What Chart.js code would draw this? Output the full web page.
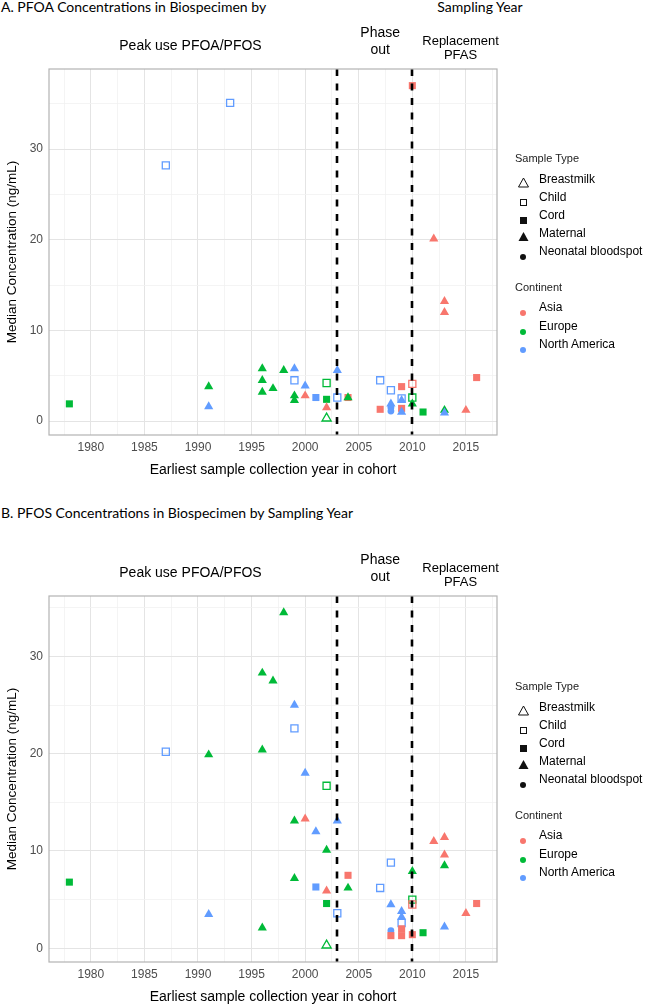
<!DOCTYPE html>
<html>
<head>
<meta charset="utf-8">
<script src="https://cdn.jsdelivr.net/npm/chart.js@4.4.1/dist/chart.umd.min.js"></script>
<style>
  body { margin: 0; background: #fff; }
  #wrap { position: relative; width: 649px; height: 1006px; overflow: hidden; font-family: "Liberation Sans", Arial, sans-serif; }
  canvas { position: absolute; left: 0; }
  .t { position: absolute; white-space: nowrap; }
  .ttl { font-family: Lato, sans-serif; font-size: 14px; line-height: 16px; color: #000; }
  .lgh { font-size: 11px; line-height: 12px; color: #222; }
  .lg { font-size: 12px; line-height: 14px; color: #000; }
  .sym { position: absolute; }
</style>
</head>
<body>
<div id="wrap">
  <div class="t ttl" style="left:1px;top:-1px;">A. PFOA Concentrations in Biospecimen by</div>
  <div class="t ttl" style="left:480px;top:-1px;transform:translateX(-50%);">Sampling Year</div>
  <canvas id="pfoaChart" width="649" height="479" style="top:0px;"></canvas>
  <div class="t ttl" style="left:1px;top:505px;">B. PFOS Concentrations in Biospecimen by Sampling Year</div>
  <canvas id="pfosChart" width="649" height="479" style="top:527px;"></canvas>
</div>
<script>
// ---- data: panel A, PFOA ----
const pfoaYear = [1978, 1987, 1991, 1991, 1993, 1996, 1996, 1996, 1997, 1998,
                  1999, 1999, 1999, 1999, 2000, 2000, 2001, 2002, 2002, 2002,
                  2002, 2003, 2003, 2004, 2004, 2007, 2007, 2008, 2008, 2008,
                  2008, 2009, 2009, 2009, 2009, 2009, 2010, 2010, 2010, 2010,
                  2011, 2012, 2013, 2013, 2013, 2013, 2015, 2016];
const pfoaConc = [1.9, 28.2, 3.8, 1.6, 35.1, 5.8, 4.5, 3.2, 3.6, 5.6,
                  5.8, 4.5, 2.8, 2.3, 3.9, 2.8, 2.6, 4.2, 2.4, 1.5,
                  0.3, 5.6, 2.6, 2.6, 2.6, 4.5, 1.3, 3.4, 1.9, 1.5,
                  1.1, 3.8, 2.5, 2.3, 1.4, 1.0, 37.0, 4.1, 2.6, 1.9,
                  1.0, 20.1, 13.2, 12.0, 1.2, 0.9, 1.2, 4.8];
const pfoaType = ['Cord', 'Child', 'Maternal', 'Maternal', 'Child', 'Maternal', 'Maternal', 'Maternal', 'Maternal', 'Maternal',
                  'Maternal', 'Child', 'Maternal', 'Maternal', 'Maternal', 'Maternal', 'Cord', 'Child', 'Cord', 'Maternal',
                  'Breastmilk', 'Maternal', 'Child', 'Cord', 'Maternal', 'Child', 'Cord', 'Child', 'Maternal', 'Neonatal bloodspot',
                  'Neonatal bloodspot', 'Cord', 'Child', 'Maternal', 'Cord', 'Maternal', 'Cord', 'Child', 'Child', 'Maternal',
                  'Cord', 'Maternal', 'Maternal', 'Maternal', 'Maternal', 'Maternal', 'Maternal', 'Cord'];
const pfoaContinent = ['Europe', 'North America', 'Europe', 'North America', 'North America', 'Europe', 'Europe', 'Europe', 'Europe', 'Europe',
                       'North America', 'North America', 'Europe', 'Europe', 'North America', 'Asia', 'North America', 'Europe', 'Europe', 'Asia',
                       'Europe', 'North America', 'North America', 'Asia', 'Europe', 'North America', 'Asia', 'North America', 'North America', 'North America',
                       'North America', 'Asia', 'North America', 'North America', 'Asia', 'North America', 'Asia', 'Asia', 'Europe', 'Europe',
                       'Europe', 'Asia', 'Asia', 'Asia', 'Europe', 'North America', 'Asia', 'Asia'];

// ---- data: panel B, PFOS ----
const pfosYear = [1978, 1987, 1991, 1991, 1996, 1996, 1996, 1997, 1998, 1999,
                  1999, 1999, 1999, 2000, 2000, 2001, 2001, 2002, 2002, 2002,
                  2002, 2002, 2003, 2003, 2004, 2004, 2007, 2008, 2008, 2008,
                  2008, 2009, 2009, 2009, 2009, 2009, 2010, 2010, 2010, 2010,
                  2011, 2012, 2013, 2013, 2013, 2013, 2015, 2016];
const pfosConc = [6.8, 20.2, 19.9, 3.5, 28.3, 20.4, 2.1, 27.5, 34.5, 25.0,
                  22.6, 13.1, 7.2, 18.0, 13.3, 12.0, 6.3, 16.7, 10.1, 5.9,
                  4.6, 0.3, 13.1, 3.6, 7.5, 6.2, 6.2, 8.8, 4.5, 1.8,
                  1.3, 3.8, 3.2, 2.6, 2.0, 1.3, 7.9, 5.0, 4.5, 1.4,
                  1.6, 11.0, 11.4, 9.6, 8.5, 2.2, 3.6, 4.6];
const pfosType = ['Cord', 'Child', 'Maternal', 'Maternal', 'Maternal', 'Maternal', 'Maternal', 'Maternal', 'Maternal', 'Maternal',
                  'Child', 'Maternal', 'Maternal', 'Maternal', 'Maternal', 'Maternal', 'Cord', 'Child', 'Maternal', 'Maternal',
                  'Cord', 'Breastmilk', 'Maternal', 'Child', 'Cord', 'Maternal', 'Child', 'Child', 'Maternal', 'Neonatal bloodspot',
                  'Cord', 'Maternal', 'Maternal', 'Child', 'Cord', 'Cord', 'Maternal', 'Child', 'Child', 'Cord',
                  'Cord', 'Maternal', 'Maternal', 'Maternal', 'Maternal', 'Maternal', 'Maternal', 'Cord'];
const pfosContinent = ['Europe', 'North America', 'Europe', 'North America', 'Europe', 'Europe', 'Europe', 'Europe', 'Europe', 'North America',
                       'North America', 'Europe', 'Europe', 'North America', 'Asia', 'North America', 'North America', 'Europe', 'Europe', 'Asia',
                       'Europe', 'Europe', 'North America', 'North America', 'Asia', 'Europe', 'North America', 'North America', 'North America', 'North America',
                       'Asia', 'North America', 'North America', 'North America', 'Asia', 'Asia', 'Europe', 'Europe', 'Asia', 'Asia',
                       'Europe', 'Asia', 'Asia', 'Asia', 'Europe', 'North America', 'Asia', 'Asia'];

// ---- axes, periods, legend ----
const xTickYears = [1980, 1985, 1990, 1995, 2000, 2005, 2010, 2015];
const yTickValues = [0, 10, 20, 30];
const phaseYears = [2003, 2010];
const periodLabels = [['Peak use PFOA/PFOS'], ['Phase', 'out'], ['Replacement', 'PFAS']];
const periodCenters = [1989.3, 2007, 2014.5];
const sampleTypes = ['Breastmilk', 'Child', 'Cord', 'Maternal', 'Neonatal bloodspot'];
const continents = ['Asia', 'Europe', 'North America'];
const continentColors = ['#F8766D', '#00BA38', '#619CFF'];

const typeStyle = {
  'Breastmilk':         { shape: 'triangle', open: true,  r: 5.3 },
  'Child':              { shape: 'rect',     open: true,  r: 5.0 },
  'Cord':               { shape: 'rect',     open: false, r: 5.0 },
  'Maternal':           { shape: 'triangle', open: false, r: 5.3 },
  'Neonatal bloodspot': { shape: 'circle',   open: false, r: 3.4 }
};

function colorOf(c) { return continentColors[continents.indexOf(c)]; }

// each panel: plot top 69, bottom 435, left 49, right 497 in its canvas
const periodLayout = [
  { size: 14, ys: [46] },
  { size: 14, ys: [33, 50] },
  { size: 13, ys: [41, 55] }
];

const framePlugin = {
  id: 'frame',
  afterDatasetsDraw(chart) {
    const { ctx, chartArea: a, scales: { x } } = chart;
    ctx.save();
    ctx.strokeStyle = '#000';
    ctx.lineWidth = 2.6;
    ctx.setLineDash([7, 7.5]);
    phaseYears.forEach(yr => {
      const px = Math.round(x.getPixelForValue(yr));
      ctx.beginPath();
      ctx.moveTo(px, a.top);
      ctx.lineTo(px, a.bottom);
      ctx.stroke();
    });
    ctx.setLineDash([]);
    ctx.strokeStyle = '#b3b3b3';
    ctx.lineWidth = 1.2;
    ctx.strokeRect(a.left, a.top, a.width, a.height);

    ctx.fillStyle = '#000';
    ctx.textAlign = 'center';
    ctx.textBaseline = 'middle';
    periodLabels.forEach((lines, i) => {
      const lay = periodLayout[i];
      ctx.font = lay.size + 'px "Liberation Sans", Arial, sans-serif';
      const px = x.getPixelForValue(periodCenters[i]);
      lines.forEach((s, j) => ctx.fillText(s, px, lay.ys[j]));
    });
    ctx.restore();
  }
};

function makeChart(id, years, conc, types, conts) {
  const pts = years.map((yr, i) => ({ x: yr, y: conc[i] }));
  const st = types.map(t => typeStyle[t]);
  const cols = conts.map(colorOf);
  const yMin = Math.min(...conc), yMax = Math.max(...conc);
  const xMin = Math.min(...years), xMax = Math.max(...years);
  const yPad = (yMax - yMin) * 0.05, xPad = (xMax - xMin) * 0.05;

  return new Chart(document.getElementById(id), {
    type: 'scatter',
    data: {
      datasets: [{
        data: pts,
        pointStyle: st.map(s => s.shape),
        pointRadius: st.map(s => s.r),
        pointHoverRadius: st.map(s => s.r),
        backgroundColor: st.map((s, i) => s.open ? 'rgba(255,255,255,0)' : cols[i]),
        borderColor: cols,
        borderWidth: st.map(s => s.open ? 1.3 : 0)
      }]
    },
    options: {
      responsive: false,
      animation: false,
      layout: { padding: { top: 69, right: 152, left: 0, bottom: 0 } },
      plugins: { legend: { display: false }, tooltip: { enabled: false } },
      scales: {
        x: {
          type: 'linear',
          min: xMin - xPad,
          max: xMax + xPad,
          afterBuildTicks: s => {
            const t = [];
            for (let v = xTickYears[0] - 2.5; v <= xMax + xPad; v += 2.5) t.push({ value: v });
            s.ticks = t;
          },
          afterFit: s => { s.height = 44; },
          border: { display: false },
          grid: {
            drawTicks: false,
            color: c => xTickYears.includes(c.tick.value) ? '#e4e4e4' : '#f1f1f1',
            lineWidth: c => xTickYears.includes(c.tick.value) ? 1 : 0.8
          },
          ticks: {
            autoSkip: false,
            maxRotation: 0,
            padding: 5,
            color: '#4d4d4d',
            font: { family: '"Liberation Sans", Arial, sans-serif', size: 12 },
            callback: v => xTickYears.includes(v) ? String(v) : ''
          },
          title: {
            display: true,
            text: 'Earliest sample collection year in cohort',
            color: '#000',
            font: { family: '"Liberation Sans", Arial, sans-serif', size: 14 },
            padding: { top: 0, bottom: 0 }
          }
        },
        y: {
          type: 'linear',
          min: yMin - yPad,
          max: yMax + yPad,
          afterBuildTicks: s => {
            const t = [];
            for (let v = 0; v <= yMax + yPad; v += 5) t.push({ value: v });
            s.ticks = t;
          },
          afterFit: s => { s.width = 49; },
          border: { display: false },
          grid: {
            drawTicks: false,
            color: c => yTickValues.includes(c.tick.value) ? '#e4e4e4' : '#f1f1f1',
            lineWidth: c => yTickValues.includes(c.tick.value) ? 1 : 0.8
          },
          ticks: {
            padding: 6,
            color: '#4d4d4d',
            font: { family: '"Liberation Sans", Arial, sans-serif', size: 12 },
            callback: v => yTickValues.includes(v) ? String(v) : ''
          },
          title: {
            display: true,
            text: 'Median Concentration (ng/mL)',
            color: '#000',
            font: { family: '"Liberation Sans", Arial, sans-serif', size: 13.5 },
            padding: { top: 4, bottom: 0 }
          }
        }
      }
    },
    plugins: [framePlugin]
  });
}

function symbolSvg(shape, open, color, size) {
  const s = size;
  let body;
  if (shape === 'triangle') {
    const pts = `${s / 2},1 ${s - 0.5},${s - 1} 0.5,${s - 1}`;
    body = open ? `<polygon points="${pts}" fill="none" stroke="${color}" stroke-width="1"/>`
                : `<polygon points="${pts}" fill="${color}"/>`;
  } else if (shape === 'rect') {
    body = open ? `<rect x="1.5" y="1.5" width="${s - 3}" height="${s - 3}" fill="none" stroke="${color}" stroke-width="1"/>`
                : `<rect x="1" y="1" width="${s - 2}" height="${s - 2}" fill="${color}"/>`;
  } else {
    body = `<circle cx="${s / 2}" cy="${s / 2}" r="${s / 2 - 1}" fill="${color}"/>`;
  }
  return `<svg width="${s}" height="${s}" viewBox="0 0 ${s} ${s}">${body}</svg>`;
}

function addLegend(dy) {
  const wrap = document.getElementById('wrap');
  const add = (html, cls, left, cy, lh) => {
    const d = document.createElement('div');
    d.className = 't ' + cls;
    d.style.left = left + 'px';
    d.style.top = (cy - lh / 2 + dy) + 'px';
    d.innerHTML = html;
    wrap.appendChild(d);
  };
  const addSym = (svg, cx, cy, size) => {
    const d = document.createElement('div');
    d.className = 'sym';
    d.style.left = (cx - size / 2) + 'px';
    d.style.top = (cy - size / 2 + dy) + 'px';
    d.style.width = size + 'px';
    d.style.height = size + 'px';
    d.innerHTML = svg;
    wrap.appendChild(d);
  };
  add('Sample Type', 'lgh', 515, 158, 12);
  sampleTypes.forEach((t, i) => {
    const cy = 179 + i * 18;
    const st = typeStyle[t];
    const size = st.shape === 'circle' ? 8 : (st.shape === 'triangle' ? 11 : 9);
    addSym(symbolSvg(st.shape, st.open, '#111', size), 523, cy, size);
    add(t, 'lg', 539, cy, 14);
  });
  add('Continent', 'lgh', 515, 287, 12);
  continents.forEach((c, i) => {
    const cy = 307 + i * 18.5;
    addSym(symbolSvg('circle', false, continentColors[i], 8), 523, cy, 8);
    add(c, 'lg', 539, cy, 14);
  });
}

makeChart('pfoaChart', pfoaYear, pfoaConc, pfoaType, pfoaContinent);
makeChart('pfosChart', pfosYear, pfosConc, pfosType, pfosContinent);
addLegend(0);
addLegend(528);
</script>
</body>
</html>
